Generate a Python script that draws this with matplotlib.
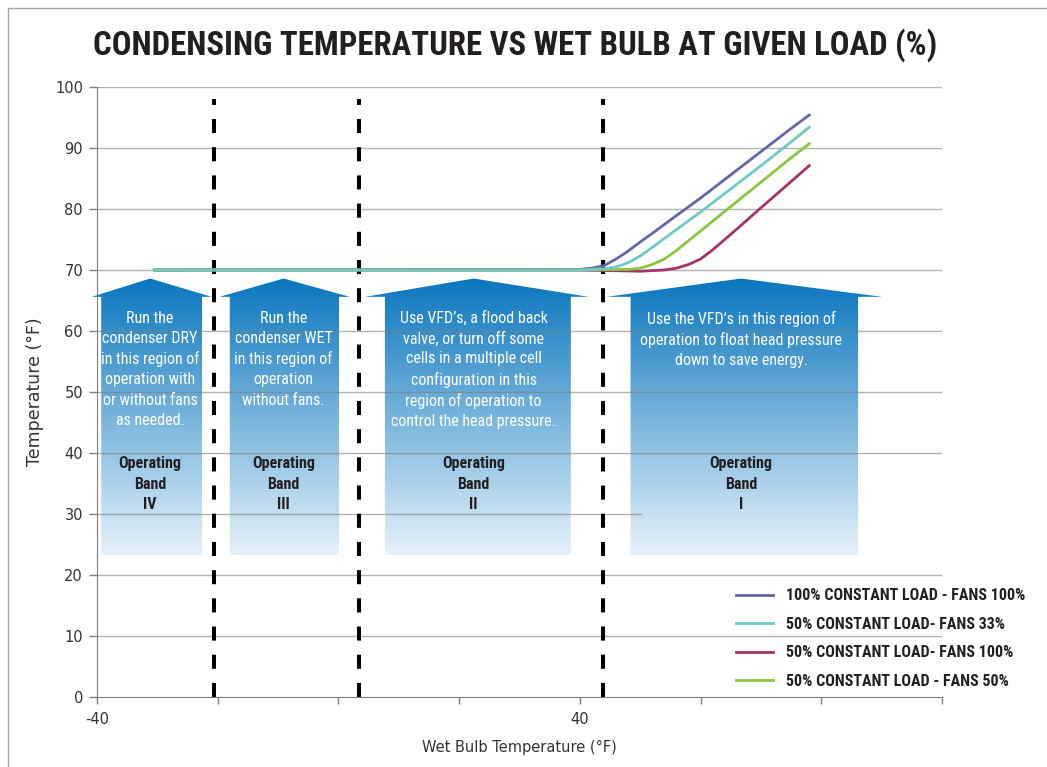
import os
import matplotlib
matplotlib.use("Agg")
import matplotlib.pyplot as plt
import numpy as np
from matplotlib import font_manager
from matplotlib.font_manager import FontProperties
from matplotlib.patches import Polygon, Rectangle

plt.rcParams["font.family"] = "DejaVu Sans"
plt.rcParams["axes.unicode_minus"] = False


def find_narrow(bold):
    # look for some condensed / narrow face among the installed fonts
    prefs = ["RobotoCondensed", "LiberationSansNarrow", "DejaVuSansCondensed",
             "NotoSans-Condensed", "OpenSans_Condensed", "OpenSans-Condensed", "Condensed", "Narrow"]
    found = []
    for f in font_manager.fontManager.ttflist:
        base = os.path.basename(f.fname)
        if "Italic" in base or "Oblique" in base or f.style != "normal":
            continue
        for rank, p in enumerate(prefs):
            if p in base:
                found.append((rank, abs(f.weight - (700 if bold else 400)) if isinstance(f.weight, int) else 300, f.fname))
                break
    if found:
        found.sort()
        return FontProperties(fname=found[0][2])
    return FontProperties(family="DejaVu Sans", weight="bold" if bold else "normal")


fp_reg = find_narrow(False)
fp_bold = find_narrow(True)

# wet bulb (F) and condensing temperature (F) for each series
wb_100_100 = [-30.5, 40, 42, 44, 46, 48, 50, 52, 55, 60, 65, 70, 75, 78]
ct_100_100 = [70, 70.1, 70.3, 70.7, 71.8, 73.1, 74.6, 76.0, 78.2, 81.8, 85.6, 89.4, 93.2, 95.4]
wb_50_33 = [-30.5, 40, 44, 46, 48, 50, 52, 55, 60, 65, 70, 75, 78]
ct_50_33 = [70, 70, 70.2, 70.5, 71.2, 72.3, 73.7, 75.9, 79.5, 83.3, 87.1, 91.0, 93.4]
wb_50_100 = [-30.5, 40, 45, 50, 54, 56, 58, 60, 62, 64, 66, 70, 75, 78]
ct_50_100 = [70, 70, 69.9, 69.8, 70.0, 70.3, 70.9, 71.8, 73.3, 75.0, 76.7, 80.2, 84.5, 87.1]
wb_50_50 = [-30.5, 40, 48, 50, 52, 54, 56, 58, 60, 62, 65, 70, 75, 78]
ct_50_50 = [70, 70, 70.1, 70.3, 70.9, 71.8, 73.2, 74.8, 76.4, 78.0, 80.4, 84.4, 88.4, 90.7]

labels = ["100% CONSTANT LOAD - FANS 100%", "50% CONSTANT LOAD- FANS 33%",
          "50% CONSTANT LOAD- FANS 100%", "50% CONSTANT LOAD - FANS 50%"]
colors = ["#6467a5", "#6dcbc5", "#a3336a", "#8cc63f"]

band_divides = [-20.6, 3.4, 43.8]

# operating band arrows: wing left, body left, body right, wing right, apex x
band_wing_l = [-40.9, -19.7, 4.4, 44.4]
band_body_l = [-39.3, -18.0, 7.7, 48.4]
band_body_r = [-22.6, 0.1, 38.5, 86.1]
band_wing_r = [-21.0, 1.9, 41.5, 90.1]
band_apex = [-31.2, -9.1, 22.4, 66.7]
band_bottom, band_shoulder, band_top = 23.2, 65.6, 68.6
band_desc = [
    "Run the\ncondenser DRY\nin this region of\noperation with\nor without fans\nas needed.",
    "Run the\ncondenser WET\nin this region of\noperation\nwithout fans.",
    "Use VFD\u2019s, a flood back\nvalve, or turn off some\ncells in a multiple cell\nconfiguration in this\nregion of operation to\ncontrol the head pressure.",
    "Use the VFD\u2019s in this region of\noperation to float head pressure\ndown to save energy.",
]
band_names = ["IV", "III", "II", "I"]

title = "CONDENSING TEMPERATURE VS WET BULB AT GIVEN LOAD (%)"

fig = plt.figure(figsize=(10.47, 7.67), dpi=100)
ax = fig.add_axes([97 / 1047, 70 / 767, 845 / 1047, 610 / 767])
renderer = fig.canvas.get_renderer()


def fit_size(s, fp, target_px):
    t = fig.text(0, 0, s, fontproperties=fp, size=10)
    w = t.get_window_extent(renderer).width
    t.remove()
    return 10 * target_px / w


desc_size = fit_size("control the head pressure.", fp_reg, 164)
name_size = fit_size("Operating", fp_bold, 63)
leg_size = fit_size(labels[0], fp_bold, 238)
title_size = fit_size(title, fp_bold, 840)

# outer frame
fig.patches.append(Rectangle((8 / 1047, -0.1), 1.2, 1.1 - 8 / 767, transform=fig.transFigure,
                             fill=False, edgecolor="#a6a6a6", lw=1.0))

# gradient arrows
top_c = np.array([10, 118, 190]) / 255
bot_c = np.array([230, 242, 250]) / 255
t = np.linspace(0, 1, 256)[:, None]
grad = (top_c[None, :] * (1 - t) + bot_c[None, :] * t)[:, None, :]
for i in range(4):
    verts = [(band_body_l[i], band_bottom), (band_body_l[i], band_shoulder),
             (band_wing_l[i], band_shoulder), (band_apex[i], band_top),
             (band_wing_r[i], band_shoulder), (band_body_r[i], band_shoulder),
             (band_body_r[i], band_bottom)]
    poly = Polygon(verts, closed=True, facecolor="none", edgecolor="none",
                   transform=ax.transData)
    ax.add_patch(poly)
    poly.set_clip_on(False)
    im = ax.imshow(grad, extent=[band_wing_l[i], band_wing_r[i], band_bottom, band_top],
                   aspect="auto", origin="upper", zorder=1, interpolation="bilinear")
    im.set_clip_path(poly)
    im.set_clip_box(fig.bbox)
    ax.text(band_apex[i], 63.3, band_desc[i], ha="center", va="top", color="white",
            fontproperties=fp_reg, size=desc_size,
            linespacing=1.08 * 21 / (desc_size * 100 / 72), zorder=4)
    ax.text(band_apex[i], 34.9, "Operating\nBand\n" + band_names[i], ha="center",
            va="center", color="#231f20", fontproperties=fp_bold, size=name_size,
            linespacing=1.1 * 21 / (name_size * 100 / 72), zorder=4)

# grid lines over the arrows
for yv in range(10, 101, 10):
    xmax = (641 - 97) / 845 if yv == 30 else 1
    ax.axhline(yv, xmax=xmax, color="#7f7f7f", alpha=0.6, lw=1.0, zorder=2)

for xv in band_divides:
    ax.plot([xv, xv], [0, 98.0], color="black", lw=2.9, dashes=(3.5, 3.5), zorder=3,
            solid_capstyle="butt", dash_capstyle="butt")

l1, = ax.plot(wb_100_100, ct_100_100, color=colors[0], lw=2.0, zorder=5)
l3, = ax.plot(wb_50_100, ct_50_100, color=colors[2], lw=2.0, zorder=5)
l4, = ax.plot(wb_50_50, ct_50_50, color=colors[3], lw=2.0, zorder=5)
l2, = ax.plot(wb_50_33, ct_50_33, color=colors[1], lw=2.0, zorder=5)

leg_fp = fp_bold.copy()
leg_fp.set_size(leg_size)
leg = ax.legend([l1, l2, l3, l4], labels, loc="upper left",
                bbox_to_anchor=(722 / 1047, 1 - 574 / 767),
                bbox_transform=fig.transFigure, frameon=False,
                handlelength=37 / (leg_size * 100 / 72),
                handletextpad=13 / (leg_size * 100 / 72),
                labelspacing=13.5 / (leg_size * 100 / 72), prop=leg_fp)
for txt in leg.get_texts():
    txt.set_color("#231f20")

ax.set_xlim(-40, 100)
ax.set_ylim(0, 100)
ax.set_xticks([-40, 40])
ax.set_xticks(np.arange(-40, 101, 20), minor=True)
ax.set_yticks(np.arange(0, 101, 10))
ax.tick_params(axis="both", which="both", direction="out", color="#7f7f7f",
               labelcolor="#333333", labelsize=10.5, width=1.0)
ax.tick_params(axis="x", which="both", length=5, pad=6)
ax.tick_params(axis="y", length=6, pad=4)
for side in ["top", "right"]:
    ax.spines[side].set_visible(False)
for side in ["left", "bottom"]:
    ax.spines[side].set_color("#7f7f7f")
ax.set_xlabel("Wet Bulb Temperature (\u00b0F)", fontsize=10.5, color="#333333", labelpad=9)
ax.set_ylabel("Temperature (\u00b0F)", fontsize=12.5, color="#333333", labelpad=8)

fig.text(0.492, 1 - 45 / 767, title, ha="center", va="center", fontproperties=fp_bold,
         size=title_size, color="#231f20")

fig.savefig("out.png", dpi=100)
